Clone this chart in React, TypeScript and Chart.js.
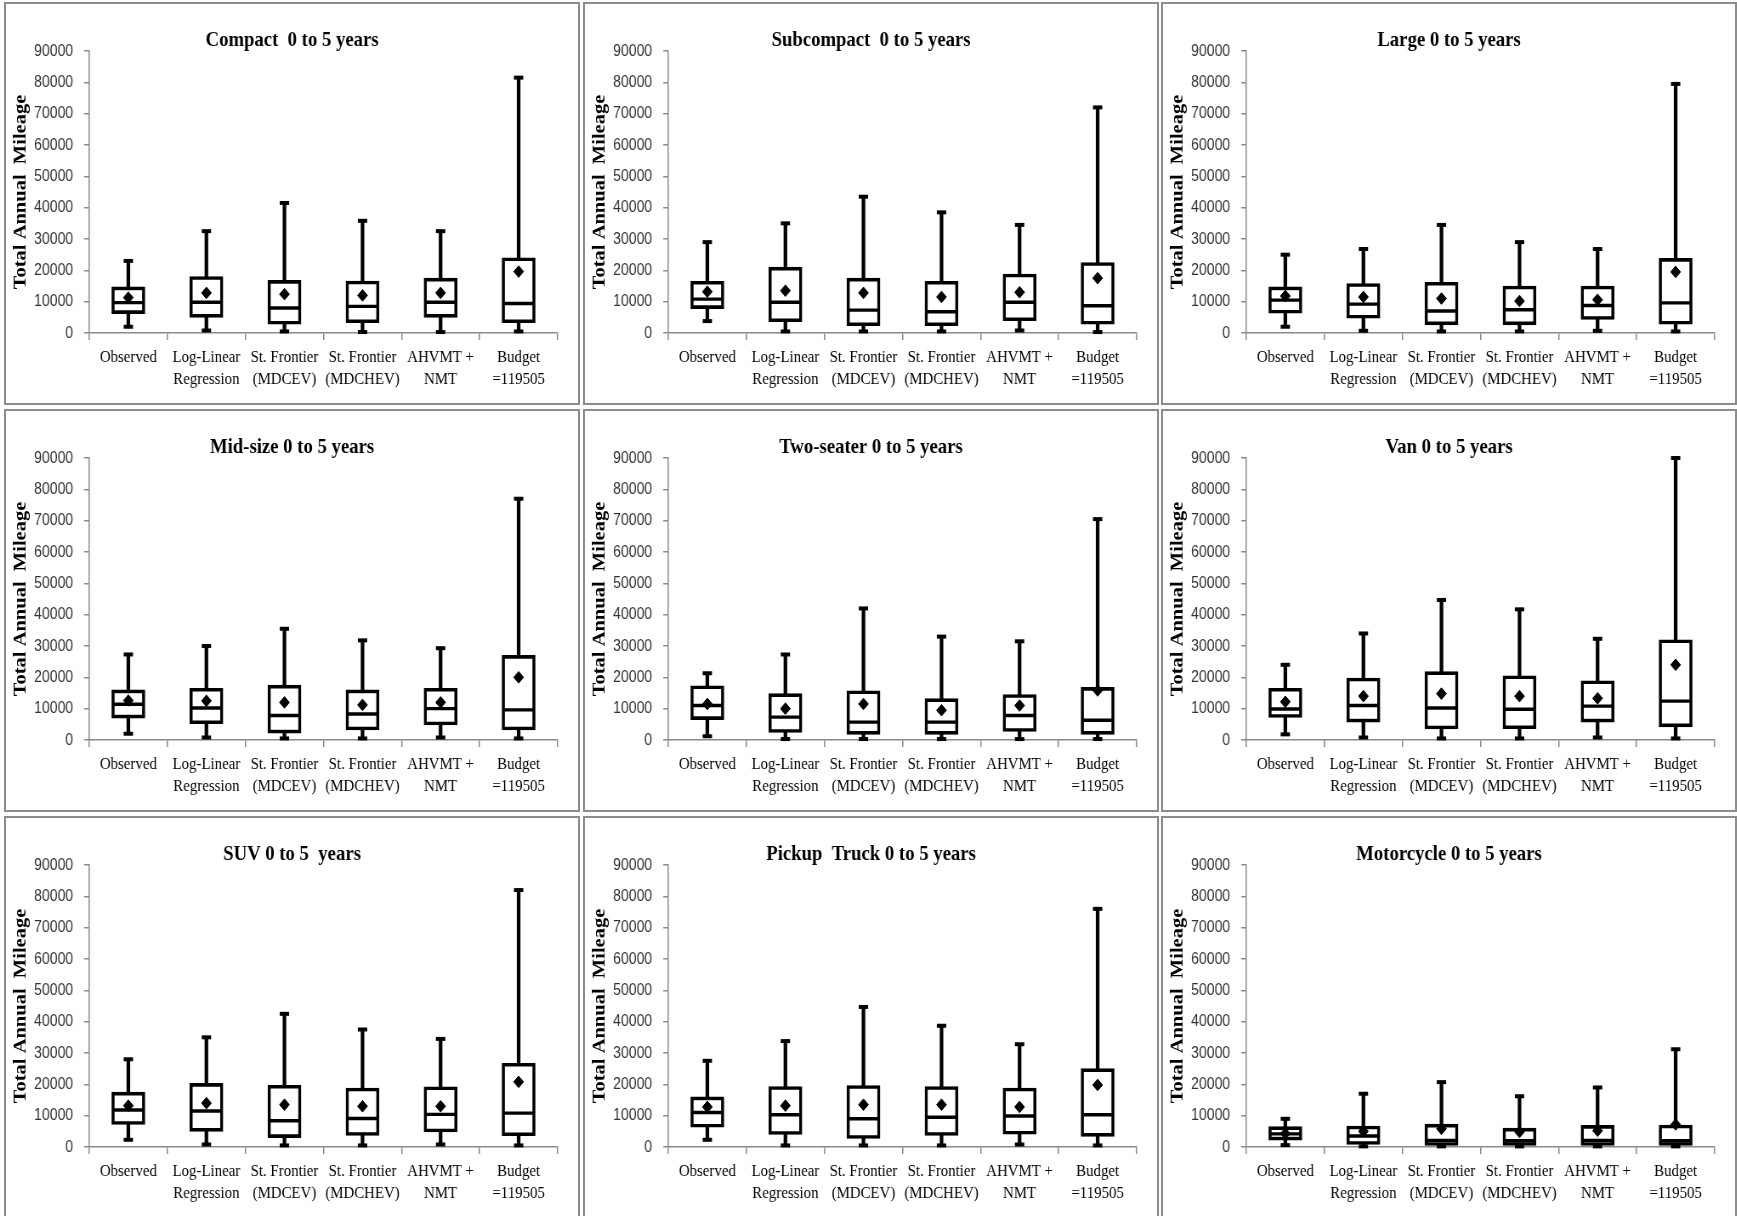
import React, { useEffect, useRef } from "react";
import { Chart, registerables } from "chart.js";

Chart.register(...registerables);

// ---------- data ----------
const CATEGORIES: string[][] = [
  ["Observed"],
  ["Log-Linear", "Regression"],
  ["St. Frontier", "(MDCEV)"],
  ["St. Frontier", "(MDCHEV)"],
  ["AHVMT +", "NMT"],
  ["Budget", "=119505"],
];

const PANEL_TITLES = [
  "Compact  0 to 5 years",
  "Subcompact  0 to 5 years",
  "Large 0 to 5 years",
  "Mid-size 0 to 5 years",
  "Two-seater 0 to 5 years",
  "Van 0 to 5 years",
  "SUV 0 to 5  years",
  "Pickup  Truck 0 to 5 years",
  "Motorcycle 0 to 5 years",
];

const Y_TITLE = "Total Annual  Mileage";
const Y_TICKS = [0, 10000, 20000, 30000, 40000, 50000, 60000, 70000, 80000, 90000];

// one row per panel (same order as PANEL_TITLES), one value per category
const WHISKER_MIN = [
  [2000, 800, 500, 300, 300, 500],
  [3800, 500, 500, 500, 800, 300],
  [2000, 700, 500, 500, 700, 500],
  [2000, 800, 500, 500, 800, 500],
  [1200, 300, 300, 300, 300, 300],
  [1800, 800, 500, 500, 800, 500],
  [2300, 800, 500, 500, 800, 500],
  [2300, 500, 500, 500, 800, 500],
  [600, 200, 200, 200, 200, 200],
];

const QUARTILE_1 = [
  [6200, 5000, 2800, 3300, 5000, 3300],
  [7800, 3600, 2300, 2300, 3900, 2800],
  [6300, 4700, 2600, 2600, 4300, 2800],
  [7000, 5200, 2200, 3200, 4800, 3200],
  [6500, 2400, 1800, 1800, 2700, 1800],
  [7200, 5700, 3500, 3600, 5700, 4200],
  [7200, 5000, 3000, 3700, 4800, 3600],
  [6300, 4000, 2700, 3700, 4100, 3400],
  [2200, 800, 500, 500, 500, 500],
];

const MEDIAN = [
  [9700, 9800, 8000, 8500, 9800, 9400],
  [10800, 9800, 7300, 6800, 9800, 8700],
  [10500, 9200, 7000, 7400, 8800, 9600],
  [11400, 10200, 7800, 8300, 10000, 9600],
  [11000, 7300, 5700, 5700, 7800, 6300],
  [9900, 11000, 10200, 9800, 10800, 12400],
  [11800, 11500, 8400, 9100, 10400, 10800],
  [11000, 10300, 9000, 9500, 9900, 10300],
  [4200, 3500, 2100, 2000, 2100, 2000],
];

const QUARTILE_3 = [
  [14700, 18000, 16800, 16600, 17500, 24000],
  [16500, 21000, 17500, 16500, 18800, 22500],
  [14700, 15800, 16200, 15000, 15000, 23800],
  [16000, 16500, 17500, 16000, 16500, 27000],
  [17300, 14800, 15700, 13200, 14500, 16800],
  [16500, 19800, 21800, 20500, 18900, 32000],
  [17500, 20300, 19700, 18800, 19200, 26700],
  [16000, 19300, 19600, 19300, 18800, 25000],
  [6500, 6700, 7300, 6000, 6900, 7000],
];

const WHISKER_MAX = [
  [23000, 32500, 41500, 35800, 32500, 81500],
  [29000, 35000, 43500, 38500, 34500, 72000],
  [25000, 26800, 34500, 29000, 26800, 79500],
  [27300, 30000, 35500, 31800, 29300, 77000],
  [21300, 27300, 42000, 33000, 31500, 70500],
  [24000, 34000, 44700, 41700, 32300, 90000],
  [28000, 35000, 42500, 37500, 34500, 82000],
  [27500, 33800, 44700, 38700, 32800, 76000],
  [9000, 17000, 20700, 16200, 19000, 31200],
];

const MEAN = [
  [11300, 12800, 12400, 12000, 12800, 19600],
  [13200, 13500, 12800, 11500, 13000, 17500],
  [11800, 11500, 11000, 10200, 10600, 19500],
  [12600, 12500, 12000, 11200, 12000, 20000],
  [11500, 10000, 11500, 9500, 11000, 15800],
  [12200, 14000, 14800, 14000, 13300, 24000],
  [13200, 14000, 13500, 13000, 13000, 20800],
  [12800, 13200, 13500, 13500, 12800, 19800],
  [4300, 5000, 5800, 4800, 5200, 7200],
];

// ---------- layout ----------
const COL_LEFT = [4, 583, 1161];
const ROW_TOP = [2, 409, 816];
const PANEL_W = 576;
const PANEL_H = 403;
const BORDER = 2;
const VIEW_W = PANEL_W - 2 * BORDER; // visible canvas width
const CANVAS_H = PANEL_H - 2 * BORDER;
const SX = 0.85; // horizontal condensing of the whole panel (narrow text look)
const CANVAS_W = Math.round(VIEW_W / SX);

const SERIF = "'Liberation Serif', 'Times New Roman', serif";
const SANS = "'Liberation Sans', Arial, sans-serif";
const BOX_W = 39;

function BoxPanel({ index }: { index: number }) {
  const ref = useRef<HTMLCanvasElement | null>(null);

  useEffect(() => {
    if (!ref.current) return;
    const labels = CATEGORIES.map((c) => c.slice());
    const mins = WHISKER_MIN[index];
    const maxs = WHISKER_MAX[index];
    const q1 = QUARTILE_1[index];
    const q3 = QUARTILE_3[index];
    const med = MEDIAN[index];
    const mean = MEAN[index];

    const pointSet = (label: string, data: number[], extra: any) => ({
      type: "line",
      label,
      data,
      showLine: false,
      borderColor: "#000",
      pointBorderColor: "#000",
      pointBackgroundColor: "#000",
      clip: false,
      yAxisID: "y",
      ...extra,
    });

    const chart = new Chart(ref.current, {
      type: "bar",
      data: {
        labels,
        datasets: [
          {
            type: "bar",
            label: "whisker",
            data: mins.map((m, i) => [m, maxs[i]]),
            backgroundColor: "#000",
            borderWidth: 0,
            barThickness: 3.6,
            grouped: false,
            yAxisID: "y",
            order: 3,
          } as any,
          {
            type: "bar",
            label: "box",
            data: q1.map((v, i) => [v, q3[i]]),
            backgroundColor: "#fff",
            borderColor: "#000",
            borderWidth: 3.6,
            borderSkipped: false,
            barThickness: BOX_W,
            grouped: false,
            yAxisID: "y",
            order: 2,
          } as any,
          pointSet("min", mins, { pointStyle: "line", pointRadius: 5.5, pointBorderWidth: 4, order: 1 }),
          pointSet("max", maxs, { pointStyle: "line", pointRadius: 5.5, pointBorderWidth: 4, order: 1 }),
          pointSet("median", med, {
            pointStyle: "line",
            pointRadius: BOX_W / 2 - 1.5,
            pointBorderWidth: 3.4,
            order: 1,
          }),
          pointSet("mean", mean, { pointStyle: "rectRot", pointRadius: 5.8, pointBorderWidth: 1, order: 0 }),
        ] as any,
      },
      options: {
        animation: false,
        responsive: false,
        maintainAspectRatio: false,
        events: [],
        layout: { padding: 0 },
        plugins: {
          legend: { display: false },
          tooltip: { enabled: false },
          title: {
            display: true,
            text: PANEL_TITLES[index],
            color: "#000",
            font: { family: SERIF, size: 22, weight: "bold", lineHeight: 1 },
            padding: { top: 25, bottom: 0 },
          },
        },
        scales: {
          x: {
            type: "category",
            offset: true,
            grid: {
              offset: true,
              drawOnChartArea: false,
              drawTicks: true,
              tickLength: 7,
              color: "#8a8a8a",
              lineWidth: 1.5,
            },
            border: { display: true, color: "#8a8a8a", width: 1.5 },
            ticks: {
              color: "#000",
              font: { family: SERIF, size: 17.5, lineHeight: 1.257 },
              padding: 6,
              maxRotation: 0,
              minRotation: 0,
              autoSkip: false,
            },
            afterFit: (scale: any) => {
              scale.height = 70;
            },
          },
          y: {
            type: "linear",
            position: "left",
            min: 0,
            max: 90000,
            afterBuildTicks: (scale: any) => {
              scale.ticks = Y_TICKS.map((v) => ({ value: v }));
            },
            grid: {
              drawOnChartArea: false,
              drawTicks: true,
              tickLength: 6,
              color: "#8a8a8a",
              lineWidth: 1.5,
            },
            border: { display: true, color: "#8a8a8a", width: 1.5 },
            ticks: {
              color: "#333",
              font: { family: SANS, size: 16.5 },
              padding: 13,
              callback: (v: any) => String(v),
            },
            title: {
              display: true,
              text: Y_TITLE,
              color: "#000",
              font: { family: SERIF, size: 20.5, weight: "bold", lineHeight: 1.2 },
              padding: { top: 5, bottom: 0 },
            },
            afterFit: (scale: any) => {
              scale.width = 98;
            },
          },
          yRight: {
            type: "linear",
            position: "right",
            display: true,
            grid: { display: false, drawTicks: false },
            border: { display: false },
            ticks: { display: false },
            afterFit: (scale: any) => {
              scale.width = 24;
            },
          },
        },
      } as any,
    });
    return () => chart.destroy();
  }, [index]);

  const col = index % 3;
  const row = Math.floor(index / 3);
  return (
    <div
      style={{
        position: "absolute",
        left: COL_LEFT[col],
        top: ROW_TOP[row],
        width: PANEL_W,
        height: PANEL_H,
        boxSizing: "border-box",
        border: `${BORDER}px solid #8c8c8c`,
        background: "#fff",
        overflow: "hidden",
      }}
    >
      <canvas
        ref={ref}
        width={CANVAS_W}
        height={CANVAS_H}
        style={{
          display: "block",
          width: CANVAS_W,
          height: CANVAS_H,
          transform: `scaleX(${SX})`,
          transformOrigin: "0 0",
        }}
      />
    </div>
  );
}

export default function App() {
  return (
    <div
      style={{
        position: "absolute",
        left: 0,
        top: 0,
        width: 1737,
        height: 1216,
        overflow: "hidden",
        background: "#fff",
      }}
    >
      {PANEL_TITLES.map((_, i) => (
        <BoxPanel key={i} index={i} />
      ))}
    </div>
  );
}
